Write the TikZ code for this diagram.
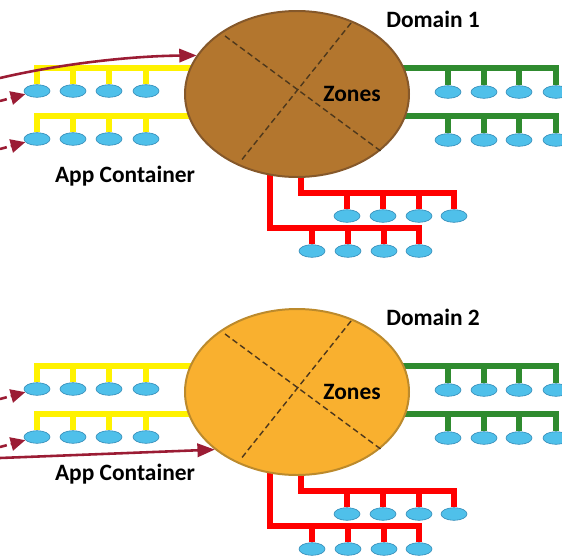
\documentclass[tikz,border=0pt]{standalone}
\usepackage{fontspec}
\setmainfont{Carlito}
\usetikzlibrary{shapes.geometric,arrows.meta,backgrounds}
\definecolor{zoneA}{HTML}{B3762E}
\definecolor{zoneAline}{HTML}{85582A}
\definecolor{zoneB}{HTML}{F9B02F}
\definecolor{zoneBline}{HTML}{BC8A2C}
\definecolor{hostfill}{HTML}{4FC0EA}
\definecolor{hostline}{HTML}{3289B5}
\definecolor{busgreen}{HTML}{2F8B2F}
\definecolor{arrowred}{HTML}{9B1C34}
\definecolor{cutline}{HTML}{4E381C}

\begin{document}
\begin{tikzpicture}[x=0.03cm, y=-0.03cm]
  \tikzstyle{zone}=[shape=ellipse, draw, line width=1.7pt, minimum width=6.72cm, minimum height=4.98cm, inner sep=0cm]
  \tikzstyle{host}=[shape=ellipse, fill=hostfill, draw=hostline, line width=0.5pt, minimum width=0.78cm, minimum height=0.38cm, inner sep=0cm]
  \tikzstyle{bus}=[line width=4.3pt, line join=miter]
  \tikzstyle{title}=[font=\fontsize{20}{22}\selectfont\bfseries, inner sep=0cm]
  \tikzstyle{cut}=[cutline, line width=1.2pt, dash pattern=on 5pt off 3pt]
  \tikzstyle{flow}=[arrowred, line width=2.2pt, -{Triangle[length=0.52cm, width=0.4cm]}]
  \tikzstyle{dflow}=[flow, dash pattern=on 6pt off 3.5pt, -{Triangle[length=0.44cm, width=0.4cm]}]

  \useasboundingbox (0,0) rectangle (562,557);

  \foreach \dom/\dy/\zf/\zd in {1/0/zoneA/zoneAline, 2/298/zoneB/zoneBline}
  {
    \begin{scope}[shift={(0,\dy)}, name prefix=d\dom-]
      % the domain with its zones
      \node[zone, fill=\zf, draw=\zd] (zone) at (297,94) {};
      \draw[cut] (225,36) -- (382,152);
      \draw[cut] (351,23) -- (240,162);
      \node[title] (zones) at (352,94) {Zones};
      \node[title] (name) at (433,19) {Domain \dom};
      \node[title] (app) at (125,176) {App Container};

      % yellow rows on the left, green rows on the right
      \foreach \row/\by in {1/68, 2/116}
      {
        \coordinate (yb\row) at (0,\by);
        \foreach \i/\x in {1/37, 2/73, 3/109, 4/146}
          \node[host] (y\row\i) at (\x,\by+23) {};
        \foreach \i/\x in {1/448, 2/484, 3/519, 4/556}
          \node[host] (g\row\i) at (\x,\by+24) {};

        \begin{pgfonlayer}{background}
          \draw[bus, yellow] (y\row1.north) |- (zone.center |- yb\row);
          \draw[bus, busgreen] (zone.center |- yb\row) -| (g\row4.north);
          \foreach \i in {2,3,4}
            \draw[bus, yellow] (y\row\i.north) -- (y\row\i.north |- yb\row);
          \foreach \i in {1,2,3}
            \draw[bus, busgreen] (g\row\i.north) -- (g\row\i.north |- yb\row);
        \end{pgfonlayer}

        % dashed requests into the first host
        \coordinate (in\row) at (0,\by+33);
        \draw[dflow] (in\row) -- (y\row1);
      }

      % red rows below
      \foreach \row/\vx/\by/\hx in {1/301/193/347, 2/270/228/312}
      {
        \coordinate (rb\row) at (\vx,\by);
        \foreach \i/\o in {1/0, 2/36, 3/72, 4/107}
          \node[host] (r\row\i) at (\hx+\o,\by+23) {};

        \begin{pgfonlayer}{background}
          \draw[bus, red] (rb\row |- zone.center) -- (rb\row) -| (r\row4.north);
          \foreach \i in {1,2,3}
            \draw[bus, red] (r\row\i.north) -- (r\row\i.north |- rb\row);
        \end{pgfonlayer}
      }
    \end{scope}
  }

  % incoming traffic to the domains
  \coordinate (src1) at (0,78);
  \coordinate (src2) at (0,458);
  \draw[flow] (src1) .. controls (60,64) and (130,56) .. (d1-zone.159);
  \draw[flow] (src2) -- (d2-zone.215);
\end{tikzpicture}
\end{document}
